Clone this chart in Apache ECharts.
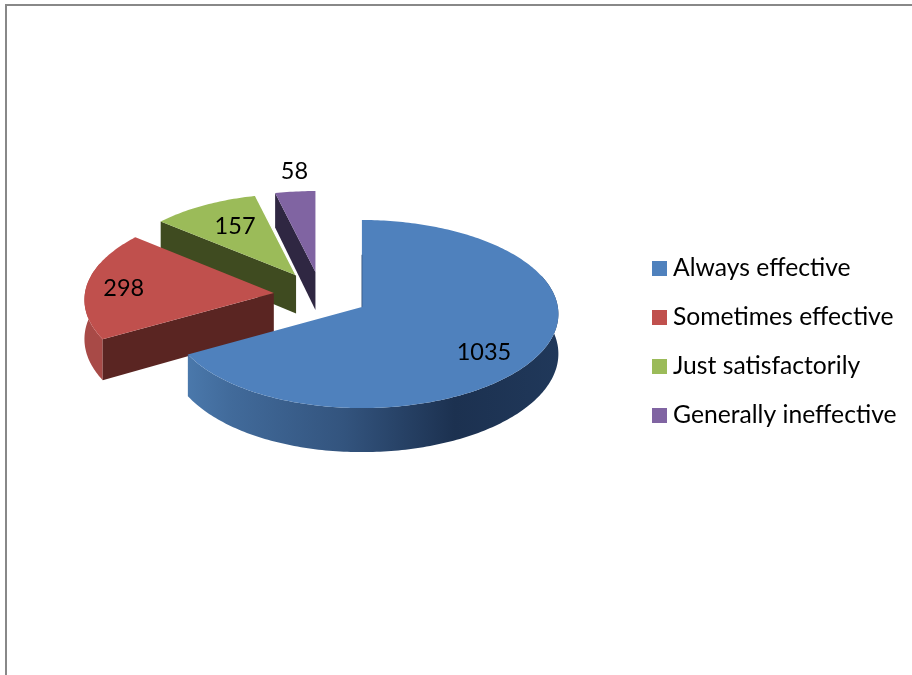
<!DOCTYPE html>
<html><head><meta charset="utf-8">
<style>html,body{margin:0;padding:0;background:#fff}#c{width:912px;height:675px}</style>
<script src="https://cdn.jsdelivr.net/npm/echarts@6/dist/echarts.min.js"></script>
</head><body><div id="c"></div>
<script>
const categories = ['Always effective','Sometimes effective','Just satisfactorily','Generally ineffective'];
const values = [1035,298,157,58];
const topColors = ['#4f81bd','#c0504d','#9bbb59','#8064a2'];
const cutColors = ['#2c4a70','#5a2522','#3f4b20','#2f2742'];
const outerColors = [null,'#a84a47','#7d9747','#66508a'];

// Layout of the tilted pie (projection of a circle with slight perspective)
const CX=321, CY=295.2, EX=47.4, EY=23.4, RX=194, RY=93.5, K=0.0745;
const total = values.reduce((a,b)=>a+b,0);
const starts = values.map((v,i)=>values.slice(0,i).reduce((a,b)=>a+b,0)/total*360);
const labelOffsets = [[122,45],[-150,-5],[-61,-49],[-21,-101]];

function sliceGeom(i, value){
  const a0=starts[i], a1=a0+value/total*360, mid=(a0+a1)/2*Math.PI/180;
  const ax=CX+EX*Math.sin(mid), ay=CY-EY*Math.cos(mid);
  const s=1+(ay-307)*0.002, sx=1+(ay-307)*0.0012;
  const pt=(deg,r=1)=>{
    const t=deg*Math.PI/180, x=Math.sin(t), z=Math.cos(t), d=1+K*z;
    return [ax+r*sx*RX*x*(1+0.01*x)/d, ay-r*s*RY*z/d];
  };
  return {a0,a1,ax,ay,mid,s,pt};
}
const drop=p=>[p[0],p[1]+41+(p[1]-340)*0.045];

function renderSlice(i){
  return function(params, api){
    const value=api.value(0), g=sliceGeom(i,value), kids=[];
    const apex=[g.ax,g.ay];
    // outer wall
    const w0=Math.max(g.a0,70), w1=Math.min(g.a1,290);
    if(w1>w0){
      const up=[],dn=[];
      for(let d=w0;d<=w1;d+=1){const p=g.pt(d);up.push(p);dn.unshift(drop(p));}
      const e=g.pt(w1);up.push(e);dn.unshift(drop(e));
      const fill = i===0 ? new echarts.graphic.LinearGradient(0,0,1,0,[
        {offset:0,color:'#4a78ab'},{offset:0.12,color:'#416a9a'},{offset:0.42,color:'#33547e'},
        {offset:0.72,color:'#1c3150'},{offset:1,color:'#20385a'}]) : outerColors[i];
      kids.push({type:'polygon',shape:{points:up.concat(dn)},style:{fill}});
    }
    // cut wall facing the viewer (trailing edge)
    if(i>0){
      const c=g.pt(g.a0);
      kids.push({type:'polygon',shape:{points:[apex,c,drop(c),drop(apex)]},style:{fill:cutColors[i]}});
    }
    // top face
    const top=[apex];
    for(let d=g.a0;d<g.a1;d+=1) top.push(g.pt(d));
    top.push(g.pt(g.a1));
    kids.push({type:'polygon',shape:{points:top},style:{fill:topColors[i]}});
    if(i===0){
      kids.push({type:'line',shape:{x1:g.ax,y1:g.ay,x2:g.pt(0,0.6)[0],y2:g.pt(0,0.6)[1]},style:{stroke:'#2c4a70',lineWidth:1,opacity:0.7}});
    }
    if(i===2){
      const e=g.pt(g.a1);
      kids.push({type:'line',shape:{x1:g.ax,y1:g.ay,x2:e[0],y2:e[1]},style:{stroke:'#ffffff',lineWidth:1.2}});
    }
    // data label
    const lo=labelOffsets[i];
    kids.push({type:'text',z2:10,style:{text:String(value),x:g.ax+lo[0],y:g.ay+lo[1],fill:'#000',font:'23.5px Lato',align:'center',verticalAlign:'middle'}});
    return {type:'group',children:kids};
  };
}

const chart=echarts.init(document.getElementById('c'),null,{renderer:'canvas'});
chart.setOption({
  animation:false,
  backgroundColor:'#fff',
  legend:{
    orient:'vertical',left:652,top:256,itemWidth:15,itemHeight:15,itemGap:24,icon:'rect',selectedMode:false,
    padding:0,
    textStyle:{fontFamily:'Lato',fontSize:24.7,color:'#000',padding:[0,0,0,1]},
    data:categories
  },
  graphic:[{type:'rect',silent:true,shape:{x:6,y:5,width:1200,height:1200},style:{fill:'none',stroke:'#888888',lineWidth:2}}],
  series:categories.map((name,i)=>({
    type:'custom',name,coordinateSystem:'none',z:4-i+2,silent:true,
    itemStyle:{color:topColors[i]},
    data:[[values[i]]],
    renderItem:renderSlice(i)
  }))
});
</script></body></html>
